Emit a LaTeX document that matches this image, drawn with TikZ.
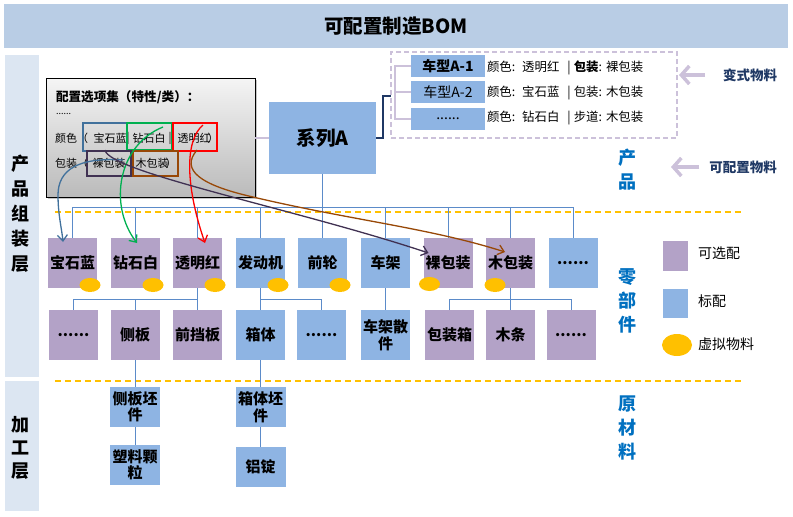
\documentclass[tikz,border=0pt]{standalone}
\usepackage{fontspec}
\setmainfont{Noto Sans CJK SC}
\usetikzlibrary{arrows.meta,calc,shadows,shapes.geometric}
\definecolor{titlebg}{HTML}{B9CDE5}
\definecolor{sidebg}{HTML}{DCE6F2}
\definecolor{optc}{HTML}{B3A2C7}
\definecolor{stdc}{HTML}{8EB4E3}
\definecolor{virtc}{HTML}{FFC000}
\definecolor{lav}{HTML}{CCC1DA}
\definecolor{treec}{HTML}{5B8BC9}
\definecolor{navy}{HTML}{1F3864}
\definecolor{lblue}{HTML}{0070C0}
\definecolor{cblue}{HTML}{41719C}
\definecolor{cgreen}{HTML}{00B050}
\definecolor{cred}{HTML}{FF0000}
\definecolor{cpurp}{HTML}{403152}
\definecolor{cbrown}{HTML}{984807}
\begin{document}
\begin{tikzpicture}[x=1pt,y=-1pt,
 every node/.style={inner sep=0pt, outer sep=0pt},
 part/.style={minimum width=49pt, minimum height=50pt, font=\fontsize{15}{17}\selectfont\bfseries, align=center},
 opt/.style={part, fill=optc},
 std/.style={part, fill=stdc},
 rawbox/.style={minimum width=50pt, minimum height=40pt, fill=stdc, font=\fontsize{15}{16.5}\selectfont\bfseries, align=center},
 tree/.style={draw=treec, line width=1pt},
 virt/.style={ellipse, fill=virtc, minimum width=21pt, minimum height=14pt},
 layer/.style={font=\fontsize{18}{25}\selectfont\bfseries, align=center},
 rlabel/.style={font=\fontsize{18}{24}\selectfont\bfseries, text=lblue, align=center},
 cfgtxt/.style={font=\fontsize{11}{12}\selectfont},
 optbox/.style={draw, line width=1.6pt},
 curv/.style={line width=1.3pt, -{Straight Barb[length=6pt,width=10pt]}},
 bigarr/.style={draw=lav, line width=3.5pt, -{Straight Barb[length=8pt,width=18pt]}},
 orangedash/.style={draw=virtc, line width=1.5pt, dash pattern=on 6pt off 4pt},
 vbox/.style={fill=stdc, minimum width=74pt, minimum height=22pt, font=\fontsize{14}{16}\selectfont},
 vtxt/.style={anchor=west, font=\fontsize{12.4}{14}\selectfont},
 legtxt/.style={anchor=west, font=\fontsize{14}{16}\selectfont}
]
\useasboundingbox (0,0) rectangle (793,517);

% title and side panels
\node[fill=titlebg, minimum width=784pt, minimum height=44pt, font=\fontsize{19.5}{21}\selectfont\bfseries] (title) at (396,26) {可配置制造BOM};
\node[fill=sidebg, minimum width=34pt, minimum height=322pt] (sideA) at (22,216) {};
\node[layer] (sideAtxt) at (21,214) {产\\品\\组\\装\\层};
\node[fill=sidebg, minimum width=34pt, minimum height=130pt] (sideB) at (22,446) {};
\node[layer, font=\fontsize{18}{23}\selectfont\bfseries] (sideBtxt) at (21,448) {加\\工\\层};

% orange dashed separators
\coordinate (d1a) at (55,212); \coordinate (d1b) at (743,212);
\coordinate (d2a) at (55,381); \coordinate (d2b) at (743,381);
\draw[orangedash] (d1a) -- (d1b);
\draw[orangedash] (d2a) -- (d2b);

% configuration option box
\node[draw=black, line width=1pt, top color=black!4, bottom color=black!27, minimum width=209pt, minimum height=119pt,
      drop shadow={shadow xshift=2pt, shadow yshift=-2pt, opacity=0.45}] (cfg) at (150.5,137.5) {};
\node[anchor=west, font=\fontsize{12.6}{14}\selectfont\bfseries] (cfgtitle) at (56,97) {配置选项集（特性/类）：};
\node[anchor=west, font=\fontsize{9}{10}\selectfont] (cfgdots) at (56,114) {......};
\node[cfgtxt, anchor=west] (c1) at (55,138) {颜色（};
\node[cfgtxt] (c2) at (110,138) {宝石蓝};
\node[cfgtxt] (c3) at (128,138) {|};
\node[cfgtxt] (c4) at (149,138) {钻石白};
\node[cfgtxt] (c5) at (170,138) {|};
\node[cfgtxt] (c6) at (194,138) {透明红};
\node[cfgtxt] (c7) at (213,138) {）};
\node[cfgtxt, anchor=west] (e1) at (55,163) {包装（};
\node[cfgtxt] (e2) at (109,163) {裸包装};
\node[cfgtxt] (e4) at (152,163) {木包装};
\node[cfgtxt] (e5) at (171,163) {）};
\node[optbox, draw=cblue, minimum width=44pt, minimum height=28pt] (bxBlue) at (105,137) {};
\node[optbox, draw=cgreen, minimum width=45pt, minimum height=27pt] (bxGreen) at (149.5,136.5) {};
\node[optbox, draw=cred, minimum width=44pt, minimum height=28pt] (bxRed) at (195,137) {};
\node[optbox, draw=cpurp, minimum width=44pt, minimum height=25pt] (bxPurp) at (109,163.5) {};
\node[optbox, draw=cbrown, minimum width=45pt, minimum height=25pt] (bxBrown) at (155.5,163.5) {};

% series A
\node[fill=stdc, minimum width=107pt, minimum height=72pt, font=\fontsize{19.5}{21}\selectfont\bfseries] (sysA) at (322.5,138) {系列A};
\draw[draw=lav, line width=1.5pt] (cfg.east |- sysA) -- (sysA.west);

% variant box
\node[draw=lav, line width=1.5pt, dash pattern=on 5pt off 3pt, minimum width=286pt, minimum height=86pt] (dbox) at (534,95) {};
\draw[draw=navy, line width=1.5pt] (sysA.east) -- ++(7,0) |- (dbox.west |- 0,96);
\node[vbox, font=\fontsize{14}{16}\selectfont\bfseries] (v1) at (448,66) {车型A-1};
\node[vbox] (v2) at (448,92) {车型A-2};
\node[vbox] (v3) at (448,119) {......};
\draw[draw=lav, line width=1.5pt] (v1.west) -- ++(-16,0) |- (v3.west);
\draw[draw=lav, line width=1.5pt] (v2.west) -- ++(-16,0);
\node[vtxt] (t1) at (487,68) {颜色:\hspace{7pt}透明红\hspace{8pt}|\hspace{3pt}\textbf{包装}:\hspace{4pt}裸包装};
\node[vtxt] (t2) at (487,93) {颜色:\hspace{7pt}宝石蓝\hspace{8pt}|\hspace{3pt}包装:\hspace{4pt}木包装};
\node[vtxt] (t3) at (487,118) {颜色:\hspace{7pt}钻石白\hspace{8pt}|\hspace{3pt}步道:\hspace{4pt}木包装};

% right labels
\node[font=\fontsize{13.5}{15}\selectfont\bfseries, text=navy] (lblVar) at (750,75) {变式物料};
\node[font=\fontsize{13.5}{15}\selectfont\bfseries, text=navy] (lblCfg) at (743,167) {可配置物料};
\node[rlabel] (lblProd) at (627,170) {产\\品};
\node[rlabel] (lblPart) at (627,301) {零\\部\\件};
\node[rlabel] (lblRaw) at (627,428) {原\\材\\料};
\draw[bigarr] ($(lblVar.west)+(-18,0)$) -- ($(dbox.east |- lblVar)+(2,0)$);
\draw[bigarr] ($(lblCfg.west)+(-10,0)$) -- ($(lblProd.east |- lblCfg)+(35,0)$);

% row 1 parts
\node[opt] (p1) at (72.5,263) {宝石蓝};
\node[opt] (p2) at (135.5,263) {钻石白};
\node[opt] (p3) at (197.5,263) {透明红};
\node[std] (p4) at (260.5,263) {发动机};
\node[std] (p5) at (322.5,263) {前轮};
\node[std] (p6) at (385.5,263) {车架};
\node[opt] (p7) at (448,263) {裸包装};
\node[opt] (p8) at (510.5,263) {木包装};
\node[std] (p9) at (573,263) {......};

% row 2 parts
\node[opt] (q1) at (73.5,335) {......};
\node[opt] (q2) at (135,335) {侧板};
\node[opt] (q3) at (197.5,335) {前挡板};
\node[std] (q4) at (260.5,335) {箱体};
\node[std] (q5) at (321.5,335) {......};
\node[std] (q6) at (385.5,335) {车架散\\件};
\node[opt] (q7) at (449.5,335) {包装箱};
\node[opt] (q8) at (510.5,335) {木条};
\node[opt] (q9) at (571,335) {......};

% rows 3 and 4
\node[rawbox] (r1) at (135,407) {侧板坯\\件};
\node[rawbox] (r2) at (260.5,407) {箱体坯\\件};
\node[rawbox] (s1) at (135,465) {塑料颗\\粒};
\node[rawbox] (s2) at (260.5,467) {铝锭};

% tree connectors
\draw[tree] (sysA.south) -- (sysA.south |- 0,207);
\draw[tree] (p1.north |- 0,207) -- (p9.north |- 0,207);
\foreach \n in {p1,p2,p3,p4,p5,p6,p7,p8,p9} \draw[tree] (\n.north |- 0,207) -- (\n.north);
\draw[tree] (p3.south) -- (p3.south |- 0,299) -| (q1.north);
\draw[tree] (p3.south |- 0,299) -| (q2.north);
\draw[tree] (p3.south |- 0,299) -- (q3.north);
\draw[tree] (p4.south) -- (p4.south |- 0,299) -| (q5.north);
\draw[tree] (p4.south |- 0,299) -- (q4.north);
\draw[tree] (p6.south) -- (q6.north);
\draw[tree] (p8.south) -- (p8.south |- 0,299) -| (q7.north);
\draw[tree] (p8.south |- 0,299) -| (q9.north);
\draw[tree] (p8.south |- 0,299) -- (q8.north);
\draw[tree] (q2.south) -- (r1.north);
\draw[tree] (r1.south) -- (s1.north);
\draw[tree] (q4.south) -- (r2.north);
\draw[tree] (r2.south) -- (s2.north);

% virtual material markers
\node[virt] (m1) at ($(p1.south east)+(-7,-3)$) {};
\node[virt] (m2) at ($(p2.south east)+(-7,-3)$) {};
\node[virt] (m3) at ($(p3.south east)+(-7,-3)$) {};
\node[virt] (m4) at ($(p4.south east)+(-7,-3)$) {};
\node[virt] (m5) at ($(p5.south east)+(-7,-3)$) {};
\node[virt] (m7) at ($(p7.south west)+(6,-4)$) {};
\node[virt] (m8) at ($(p8.south west)+(9,-3)$) {};

% legend
\node[fill=optc, minimum width=25pt, minimum height=30pt] (lg1) at (675.5,256) {};
\node[legtxt] (lg1t) at (698,253) {可选配};
\node[fill=stdc, minimum width=25pt, minimum height=29pt] (lg2) at (675.5,303.5) {};
\node[legtxt] (lg2t) at (698,301) {标配};
\node[virt, minimum width=30pt, minimum height=22pt] (lg3) at (677,345) {};
\node[legtxt] (lg3t) at (698,344) {虚拟物料};

% option mapping curves
\coordinate (sBlue) at ($(bxBlue.south east)+(-4,9)$);
\coordinate (sGreen) at ($(bxGreen.north east)+(-9,4)$);
\coordinate (sRed) at ($(bxRed.north east)+(-14,2)$);
\coordinate (sPurp) at ($(bxPurp.north west)+(18,-1)$);
\coordinate (sBrown) at ($(bxBrown.north east)+(19,-1)$);
\draw[curv, draw=cblue] (sBlue) .. controls (78,157) and (58,170) .. (58,195) .. controls (58,215) and (62,230) .. ($(p1.north west)+(15,4)$);
\draw[curv, draw=cgreen] (sGreen) .. controls (118,145) and (108,205) .. ($(p2.north west)+(26,5)$);
\draw[curv, draw=cred] (sRed) .. controls (185,140) and (185,185) .. ($(p3.north west)+(32,5)$);
\draw[curv, draw=cpurp] (sPurp) .. controls (108,172) and (300,210) .. ($(p7.west)+(5,-10)$);
\draw[curv, draw=cbrown] (sBrown) .. controls (180,170) and (200,185) .. (253,197) .. controls (350,220) and (430,228) .. ($(p8.north west)+(19,14)$);
\end{tikzpicture}
\end{document}
